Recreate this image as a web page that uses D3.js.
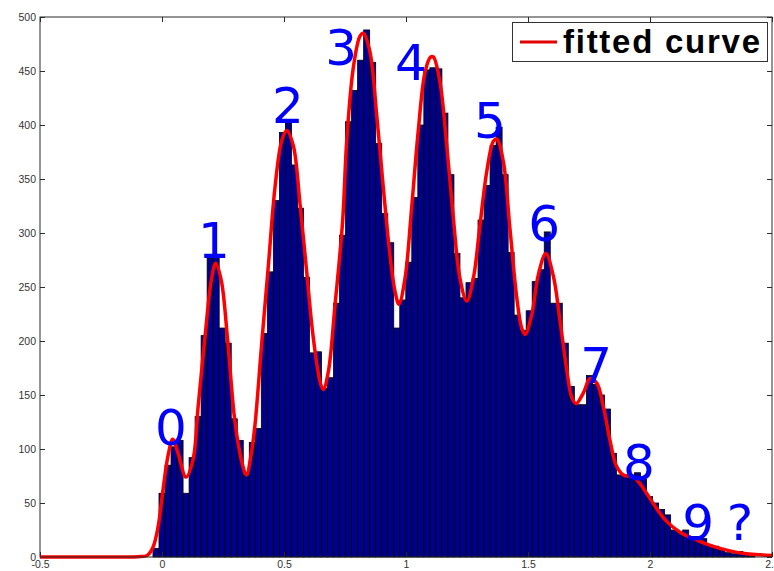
<!DOCTYPE html>
<html>
<head>
<meta charset="utf-8">
<script src="https://cdn.jsdelivr.net/npm/d3@7"></script>
<style>
  html, body { margin: 0; padding: 0; background: #fff; }
  svg { display: block; }
</style>
</head>
<body>
<svg id="chart" width="774" height="571"></svg>
<script>
// Histogram: 100 equal-width bins starting at binStart
const binStart = -0.037;
const binWidth = 0.02467;
const counts = [
  8, 59, 85, 102, 108, 59, 92, 130, 205, 277,
  279, 212, 198, 128, 108, 76, 106, 119, 207, 264,
  330, 393, 402, 363, 323, 259, 189, 190, 156, 166,
  235, 298, 403, 432, 460, 488, 458, 383, 318, 291,
  212, 238, 273, 333, 400, 451, 453, 452, 411, 354,
  281, 240, 254, 258, 312, 344, 381, 398, 354, 282,
  224, 210, 228, 255, 266, 301, 235, 235, 198, 158,
  141, 141, 168, 160, 150, 137, 96, 76, 76, 76,
  78, 72, 56, 50, 44, 39, 25, 23, 25, 19,
  19, 17, 11, 10, 6, 4, 3, 5, 3, 1
];

// Fitted curve, sampled points
const curveX = [
  -0.5, -0.3, -0.1, -0.06, -0.037, -0.016, 0.004, 0.025, 0.044, 0.066,
  0.098, 0.127, 0.148, 0.175, 0.202, 0.22, 0.243, 0.27, 0.298, 0.325,
  0.346, 0.366, 0.381, 0.408, 0.436, 0.463, 0.49, 0.511, 0.538, 0.566,
  0.593, 0.62, 0.648, 0.661, 0.682, 0.709, 0.74, 0.757, 0.784, 0.811,
  0.825, 0.852, 0.88, 0.907, 0.934, 0.955, 0.971, 0.996, 1.023, 1.05,
  1.078, 1.101, 1.112, 1.139, 1.167, 1.194, 1.221, 1.249, 1.276, 1.303,
  1.331, 1.358, 1.372, 1.399, 1.426, 1.454, 1.474, 1.488, 1.515, 1.542,
  1.573, 1.604, 1.631, 1.659, 1.679, 1.697, 1.727, 1.754, 1.782, 1.809,
  1.836, 1.863, 1.891, 1.932, 1.959, 1.986, 2.027, 2.068, 2.123, 2.178,
  2.232, 2.287, 2.341, 2.396, 2.451, 2.5
];
const curveY = [
  0, 0, 0.3, 1.5, 9, 28, 62, 94, 109, 96,
  74, 90, 139, 201, 256, 272, 256, 198, 127, 90,
  76, 96, 122, 196, 270, 342, 385, 395, 381, 326,
  264, 203, 162, 155, 172, 233, 310, 385, 453, 482,
  485, 468, 409, 342, 280, 246, 234, 258, 323, 394,
  449, 463, 463, 440, 381, 314, 258, 237, 258, 307,
  357, 385, 387, 366, 304, 240, 212, 206, 224, 261,
  281, 260, 219, 173, 148, 142, 152, 165, 161, 139,
  108, 84, 76, 74, 68, 59, 45, 33, 23, 17,
  12, 8, 5, 3, 2, 1.5
];

// Peak annotations
const peakLabels = ["0", "1", "2", "3", "4", "5", "6", "7", "8", "9", "?"];
const peakLabelX = [0.037, 0.213, 0.516, 0.734, 1.02, 1.344, 1.566, 1.779, 1.955, 2.197, 2.369];
const peakLabelY = [104, 277, 402, 456, 442, 388, 293, 161, 71, 16, 16];

const xTicks = [-0.5, 0, 0.5, 1, 1.5, 2, 2.5];
const yTicks = [0, 50, 100, 150, 200, 250, 300, 350, 400, 450, 500];
const legendLabel = "fitted curve";

const svg = d3.select("#chart");
const plot = { left: 40, top: 17, right: 772, bottom: 557 };

const x = d3.scaleLinear().domain([-0.5, 2.5]).range([plot.left, plot.right]);
const y = d3.scaleLinear().domain([0, 500]).range([plot.bottom, plot.top]);

svg.append("rect").attr("width", 774).attr("height", 571).attr("fill", "#fff");

// bars
svg.append("g")
  .selectAll("rect")
  .data(counts)
  .join("rect")
  .attr("x", (d, i) => x(binStart + i * binWidth))
  .attr("width", (d, i) => x(binStart + (i + 1) * binWidth) - x(binStart + i * binWidth))
  .attr("y", d => y(d))
  .attr("height", d => y(0) - y(d))
  .attr("fill", "#00008f")
  .attr("stroke", "#000")
  .attr("stroke-width", 0.8);

// axes: ticks point inward on all four sides
const axisColor = "#2b2b2b";
const fmt = d => String(d);
const styleAxis = g => {
  g.select(".domain").remove();
  g.selectAll(".tick line").attr("stroke", axisColor);
  g.selectAll(".tick text")
    .attr("fill", "#333")
    .style("font-family", "'Liberation Sans', Arial, sans-serif")
    .style("font-size", "10.5px");
};

svg.append("g")
  .attr("transform", `translate(0,${plot.bottom})`)
  .call(d3.axisBottom(x).tickValues(xTicks).tickFormat(fmt).tickSize(-5).tickPadding(4))
  .call(styleAxis);
svg.append("g")
  .attr("transform", `translate(0,${plot.top})`)
  .call(d3.axisTop(x).tickValues(xTicks).tickFormat("").tickSize(-5))
  .call(styleAxis);
svg.append("g")
  .attr("transform", `translate(${plot.left},0)`)
  .call(d3.axisLeft(y).tickValues(yTicks).tickFormat(fmt).tickSize(-5).tickPadding(4))
  .call(styleAxis);
svg.append("g")
  .attr("transform", `translate(${plot.right},0)`)
  .call(d3.axisRight(y).tickValues(yTicks).tickFormat("").tickSize(-5))
  .call(styleAxis);

// fitted curve
const line = d3.line()
  .x(d => x(d[0]))
  .y(d => y(d[1]))
  .curve(d3.curveCatmullRom.alpha(0.5));
svg.append("path")
  .datum(d3.zip(curveX, curveY))
  .attr("d", line)
  .attr("fill", "none")
  .attr("stroke", "#ff0000")
  .attr("stroke-width", 3.5)
  .attr("stroke-linejoin", "round");

// frame
svg.append("rect")
  .attr("x", plot.left).attr("y", plot.top)
  .attr("width", plot.right - plot.left)
  .attr("height", plot.bottom - plot.top)
  .attr("fill", "none")
  .attr("stroke", axisColor)
  .attr("stroke-width", 1);

// peak numbers
svg.append("g")
  .selectAll("text")
  .data(peakLabels)
  .join("text")
  .attr("x", (d, i) => x(peakLabelX[i]))
  .attr("y", (d, i) => y(peakLabelY[i]))
  .attr("text-anchor", "middle")
  .attr("fill", "#0000ff")
  .style("font-family", "'DejaVu Sans', sans-serif")
  .style("font-size", "50px")
  .text(d => d);

// legend
const lg = svg.append("g");
lg.append("rect")
  .attr("x", 512.5).attr("y", 22.5).attr("width", 255).attr("height", 39)
  .attr("fill", "#fff").attr("stroke", "#333").attr("stroke-width", 1);
lg.append("line")
  .attr("x1", 520).attr("x2", 557).attr("y1", 42).attr("y2", 42)
  .attr("stroke", "#e00000").attr("stroke-width", 3);
lg.append("text")
  .attr("x", 563).attr("y", 53)
  .attr("textLength", 197)
  .attr("lengthAdjust", "spacing")
  .attr("fill", "#000")
  .style("font-family", "'Liberation Sans', Arial, sans-serif")
  .style("font-weight", "bold")
  .style("font-size", "33px")
  .text(legendLabel);
</script>
</body>
</html>
